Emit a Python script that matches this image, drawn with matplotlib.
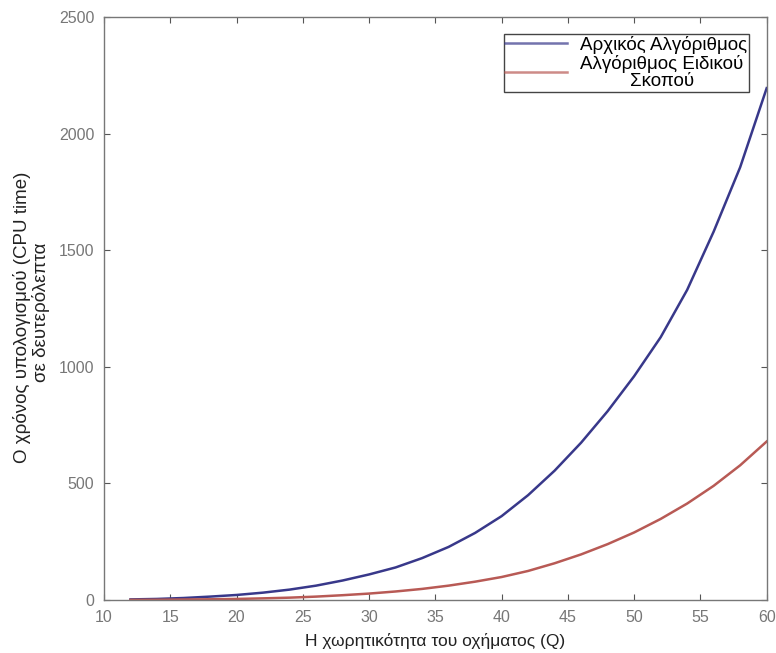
import numpy as np
import matplotlib
matplotlib.use('Agg')
import matplotlib.pyplot as plt

plt.rcParams['font.family'] = ['Liberation Sans', 'DejaVu Sans']

# vehicle capacity Q
capacity = [12, 14, 16, 18, 20, 22, 24, 26, 28, 30, 32, 34, 36,
            38, 40, 42, 44, 46, 48, 50, 52, 54, 56, 58, 60]
# CPU time (s), original algorithm
cpu_original = [3, 5, 9, 15, 22, 32, 45, 62, 84, 110, 140, 180, 228,
                288, 360, 450, 555, 675, 810, 960, 1127, 1330, 1580, 1856, 2195]
# CPU time (s), special purpose algorithm
cpu_special = [1, 1.5, 2.5, 3.5, 5, 7.5, 10.5, 15, 21, 28, 37, 48, 62,
               79, 99, 125, 158, 196, 240, 290, 348, 414, 490, 578, 680]

labels = ['Αρχικός Αλγόριθμος', 'Αλγόριθμος Ειδικού\nΣκοπού']
xticks = [10, 15, 20, 25, 30, 35, 40, 45, 50, 55, 60]
yticks = [0, 500, 1000, 1500, 2000, 2500]

fig = plt.figure(figsize=(7.76, 6.53), dpi=100)
ax = fig.add_axes([0.134, 0.081, 0.854, 0.893])

ax.plot(capacity, cpu_original, color='#38388a', lw=1.8, label=labels[0])
ax.plot(capacity, cpu_special, color='#b85a55', lw=1.8, label=labels[1])

ax.set_xlim(10, 60)
ax.set_ylim(0, 2500)
ax.set_xticks(xticks)
ax.set_yticks(yticks)
ax.tick_params(direction='in', top=True, right=True, length=4, width=0.8,
               colors='#555555', labelcolor='#777777', labelsize=11.5, pad=7)
for s in ax.spines.values():
    s.set_color('#777777')
    s.set_linewidth(1.0)

ax.set_xlabel('Η χωρητικότητα του οχήματος (Q)', fontsize=12.5, color='#222222', labelpad=6)
fig.text(0.028, 0.514, 'Ο χρόνος υπολογισμού (CPU time)', rotation=90, fontsize=13.5,
         color='#222222', ha='center', va='center')
fig.text(0.053, 0.522, 'σε δευτερόλεπτα', rotation=90, fontsize=13.5,
         color='#222222', ha='center', va='center')

leg = ax.legend(loc='upper right', bbox_to_anchor=(0.974, 0.971), fontsize=13.5,
                fancybox=False, edgecolor='#444444', framealpha=1,
                handlelength=3.3, handletextpad=0.7, labelspacing=0.05,
                borderpad=0.1, borderaxespad=0)
leg.get_frame().set_linewidth(1.0)
for t in leg.get_texts():
    t.set_multialignment('center')
    t.set_linespacing(1.0)
for h in leg.get_lines():
    h.set_alpha(0.7)

fig.savefig('out.png', dpi=100)
